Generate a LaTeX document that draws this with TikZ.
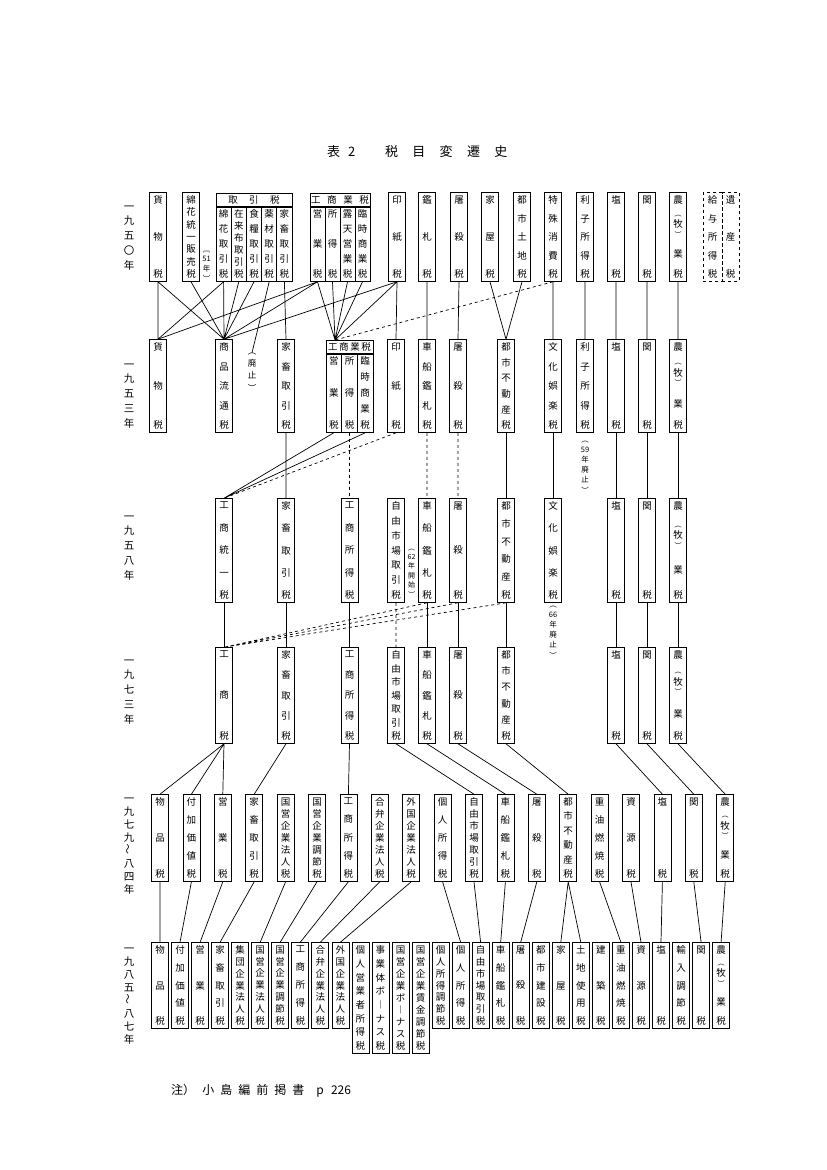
\documentclass[tikz,border=0pt]{standalone}
\usepackage{fontspec}
\setmainfont{Noto Sans CJK JP}
\usepackage{tikz}

\newcommand{\zeifont}{\fontsize{9.5}{10.5}\selectfont}
\newcommand{\chufont}{\fontsize{7.5}{8.5}\selectfont}
\newcommand{\nenfont}{\fontsize{10.5}{12}\selectfont}
% 縦書き（カンマ区切りの文字を上下に割り付ける）
\newcommand{\tate}[1]{\foreach \zc [count=\zi] in {#1}{\ifnum\zi>1 \par\vfill\fi\zc}}
\newcommand{\tb}[3][17]{\parbox[c][#2pt][s]{#1pt}{\centering\tate{#3}}}
\newcommand{\kakko}[1]{\shortstack{\scriptsize ︵\\#1\\\scriptsize ︶}}
\newcommand{\nami}{\rotatebox{90}{～}}

\begin{document}
\begin{tikzpicture}[x=1pt, y=-1pt,
  zei/.style={draw, line width=0.8pt, inner xsep=0pt, inner ysep=3pt, font=\zeifont},
  hazei/.style={zei, dashed},
  zeig/.style={draw, line width=0.8pt, inner sep=0pt, minimum height=14pt, font=\zeifont},
  chu/.style={inner sep=0pt, font=\chufont},
  nen/.style={inner sep=0pt, font=\nenfont},
  kei/.style={line width=0.7pt},
  hakei/.style={kei, dashed}
]
  \fill[white] (0,0) rectangle (827,1170);
  \useasboundingbox (0,0) rectangle (827,1170);

  \node[anchor=west, inner sep=0pt, font=\fontsize{13}{15}\selectfont] (hyodai) at (327,152)
    {表\hspace{0.6em}2\hspace{2.3em}税\hspace{1.1em}目\hspace{1.1em}変\hspace{1.1em}遷\hspace{1.1em}史};

  % 年
  \node[nen] (n1950) at (129,238) {\tb[14]{64}{一,九,五,〇,年}};
  \node[nen] (n1953) at (129,396) {\tb[14]{64}{一,九,五,三,年}};
  \node[nen] (n1958) at (129,548) {\tb[14]{64}{一,九,五,八,年}};
  \node[nen] (n1973) at (129,692) {\tb[14]{64}{一,九,七,三,年}};
  \node[nen] (n1979) at (129,846) {\tb[14]{96}{一,九,七,九,\nami,八,四,年}};
  \node[nen] (n1985) at (129,996) {\tb[14]{96}{一,九,八,五,\nami,八,七,年}};

  % 1950
  \node[zei] (r1kamotsu) at (158,237) {\tb{82}{貨,物,税}};
  \node[zei] (r1menka) at (191,237) {\tb{82}{綿,花,統,一,販,売,税}};
  \node[chu] (r1nen51) at (206.5,266) {\tb[9]{30}{︹,51,年,︺}};
  \node[zeig, minimum width=76pt] (r1torihiki) at (254,200) {取\hspace{1.2em}引\hspace{1.2em}税};
  \node[zei] (r1menkator) at (223.6,244) {\tb[15.2]{68}{綿,花,取,引,税}};
  \node[zei] (r1zairai) at (238.8,244) {\tb[15.2]{68}{在,来,布,取,引,税}};
  \node[zei] (r1shokuryo) at (254,244) {\tb[15.2]{68}{食,糧,取,引,税}};
  \node[zei] (r1yakuzai) at (269.2,244) {\tb[15.2]{68}{薬,材,取,引,税}};
  \node[zei] (r1kachiku) at (284.4,244) {\tb[15.2]{68}{家,畜,取,引,税}};
  \node[zeig, minimum width=60pt] (r1koshogyo) at (340,200) {工\hspace{0.7em}商\hspace{0.7em}業\hspace{0.7em}税};
  \node[zei] (r1eigyo) at (317.5,244) {\tb[15]{68}{営,業,税}};
  \node[zei] (r1shotoku) at (332.5,244) {\tb[15]{68}{所,得,税}};
  \node[zei] (r1roten) at (347.5,244) {\tb[15]{68}{露,天,営,業,税}};
  \node[zei] (r1rinji) at (362.5,244) {\tb[15]{68}{臨,時,商,業,税}};
  \node[zei] (r1inshi) at (397,237) {\tb{82}{印,紙,税}};
  \node[zei] (r1kansatsu) at (427,237) {\tb{82}{鑑,札,税}};
  \node[zei] (r1tosatsu) at (459,237) {\tb{82}{屠,殺,税}};
  \node[zei] (r1kaoku) at (490,237) {\tb{82}{家,屋,税}};
  \node[zei] (r1toshitochi) at (522,237) {\tb{82}{都,市,土,地,税}};
  \node[zei] (r1tokushu) at (553,237) {\tb{82}{特,殊,消,費,税}};
  \node[zei] (r1rishi) at (585,237) {\tb{82}{利,子,所,得,税}};
  \node[zei] (r1en) at (616,237) {\tb{82}{塩,税}};
  \node[zei] (r1kan) at (647,237) {\tb{82}{関,税}};
  \node[zei] (r1nogyo) at (678,237) {\tb{82}{農,\kakko{牧},業,税}};
  \node[hazei] (r1kyuyo) at (712.5,237) {\tb[19]{82}{給,与,所,得,税}};
  \node[hazei] (r1isan) at (730.5,237) {\tb[17]{82}{遺,産,税}};

  % 1953
  \node[zei] (r2kamotsu) at (158,386) {\tb{86}{貨,物,税}};
  \node[zei] (r2ryutsu) at (224,386) {\tb{86}{商,品,流,通,税}};
  \node[chu, font=\fontsize{8.5}{9.5}\selectfont] (r2haishi) at (252,372) {\tb[10]{38}{︵,廃,止,︶}};
  \node[zei] (r2kachiku) at (286,386) {\tb{86}{家,畜,取,引,税}};
  \node[zeig, minimum width=47pt] (r2koshogyo) at (349.5,347) {工\,商\,業\,税};
  \coordinate (r2kgtop) at (335,340);
  \node[zei] (r2eigyo) at (333.8,393) {\tb[15.6]{72}{営,業,税}};
  \node[zei] (r2shotoku) at (349.5,393) {\tb[15.6]{72}{所,得,税}};
  \node[zei] (r2rinji) at (365.2,393) {\tb[15.6]{72}{臨,時,商,業,税}};
  \node[zei] (r2inshi) at (396,386) {\tb{86}{印,紙,税}};
  \node[zei] (r2shasen) at (427,386) {\tb{86}{車,船,鑑,札,税}};
  \node[zei] (r2tosatsu) at (458,386) {\tb{86}{屠,殺,税}};
  \node[zei] (r2fudosan) at (506,386) {\tb{86}{都,市,不,動,産,税}};
  \node[zei] (r2bunka) at (553,386) {\tb{86}{文,化,娯,楽,税}};
  \node[zei] (r2rishi) at (585,386) {\tb{86}{利,子,所,得,税}};
  \node[chu] (r2haishi59) at (585,467) {\tb[12]{52}{︵,59,年,廃,止,︶}};
  \node[zei] (r2en) at (616,386) {\tb{86}{塩,税}};
  \node[zei] (r2kan) at (647,386) {\tb{86}{関,税}};
  \node[zei] (r2nogyo) at (678,386) {\tb{86}{農,\kakko{牧},業,税}};

  % 1958
  \node[zei] (r3toitsu) at (224,550.5) {\tb{97}{工,商,統,一,税}};
  \node[zei] (r3kachiku) at (286,550.5) {\tb{97}{家,畜,取,引,税}};
  \node[zei] (r3kosho) at (349.5,550.5) {\tb{97}{工,商,所,得,税}};
  \node[zei] (r3jiyu) at (396,550.5) {\tb{97}{自,由,市,場,取,引,税}};
  \node[chu, font=\fontsize{7}{8}\selectfont] (r3nen62) at (411.5,573) {\tb[9]{48}{︵,62,年,開,始,︶}};
  \node[zei] (r3shasen) at (427,550.5) {\tb{97}{車,船,鑑,札,税}};
  \node[zei] (r3tosatsu) at (458,550.5) {\tb{97}{屠,殺,税}};
  \node[zei] (r3fudosan) at (506,550.5) {\tb{97}{都,市,不,動,産,税}};
  \node[zei] (r3bunka) at (553,550.5) {\tb{97}{文,化,娯,楽,税}};
  \node[chu] (r3haishi66) at (553,632) {\tb[12]{52}{︵,66,年,廃,止,︶}};
  \node[zei] (r3en) at (616,550.5) {\tb{97}{塩,税}};
  \node[zei] (r3kan) at (647,550.5) {\tb{97}{関,税}};
  \node[zei] (r3nogyo) at (678,550.5) {\tb{97}{農,\kakko{牧},業,税}};

  % 1973
  \node[zei] (r4kosho) at (224,695.5) {\tb{89}{工,商,税}};
  \node[zei] (r4kachiku) at (286,695.5) {\tb{89}{家,畜,取,引,税}};
  \node[zei] (r4shotoku) at (349.5,695.5) {\tb{89}{工,商,所,得,税}};
  \node[zei] (r4jiyu) at (396,695.5) {\tb{89}{自,由,市,場,取,引,税}};
  \node[zei] (r4shasen) at (427,695.5) {\tb{89}{車,船,鑑,札,税}};
  \node[zei] (r4tosatsu) at (458,695.5) {\tb{89}{屠,殺,税}};
  \node[zei] (r4fudosan) at (506,695.5) {\tb{89}{都,市,不,動,産,税}};
  \node[zei] (r4en) at (616,695.5) {\tb{89}{塩,税}};
  \node[zei] (r4kan) at (647,695.5) {\tb{89}{関,税}};
  \node[zei] (r4nogyo) at (678,695.5) {\tb{89}{農,\kakko{牧},業,税}};

  % 1979-84
  \node[zei] (r5buppin) at (160,838) {\tb{80}{物,品,税}};
  \node[zei] (r5fuka) at (191.4,838) {\tb{80}{付,加,価,値,税}};
  \node[zei] (r5eigyo) at (222.8,838) {\tb{80}{営,業,税}};
  \node[zei] (r5kachiku) at (254.2,838) {\tb{80}{家,畜,取,引,税}};
  \node[zei] (r5kokuho) at (285.6,838) {\tb{80}{国,営,企,業,法,人,税}};
  \node[zei] (r5kokucho) at (317,838) {\tb{80}{国,営,企,業,調,節,税}};
  \node[zei] (r5kosho) at (348.4,838) {\tb{80}{工,商,所,得,税}};
  \node[zei] (r5gouben) at (379.8,838) {\tb{80}{合,弁,企,業,法,人,税}};
  \node[zei] (r5gaikoku) at (411.2,838) {\tb{80}{外,国,企,業,法,人,税}};
  \node[zei] (r5kojin) at (442.6,838) {\tb{80}{個,人,所,得,税}};
  \node[zei] (r5jiyu) at (474,838) {\tb{80}{自,由,市,場,取,引,税}};
  \node[zei] (r5shasen) at (505.4,838) {\tb{80}{車,船,鑑,札,税}};
  \node[zei] (r5tosatsu) at (536.8,838) {\tb{80}{屠,殺,税}};
  \node[zei] (r5fudosan) at (568.2,838) {\tb{80}{都,市,不,動,産,税}};
  \node[zei] (r5juyu) at (599.6,838) {\tb{80}{重,油,燃,焼,税}};
  \node[zei] (r5shigen) at (631,838) {\tb{80}{資,源,税}};
  \node[zei] (r5en) at (662.4,838) {\tb{80}{塩,税}};
  \node[zei] (r5kan) at (693.8,838) {\tb{80}{関,税}};
  \node[zei] (r5nogyo) at (725.2,838) {\tb{80}{農,\kakko{牧},業,税}};

  % 1985-87
  \node[zei] (r6buppin) at (160,985.5) {\tb{79}{物,品,税}};
  \node[zei] (r6fuka) at (180,985.5) {\tb{79}{付,加,価,値,税}};
  \node[zei] (r6eigyo) at (200.1,985.5) {\tb{79}{営,業,税}};
  \node[zei] (r6kachiku) at (220.1,985.5) {\tb{79}{家,畜,取,引,税}};
  \node[zei] (r6shudan) at (240.2,985.5) {\tb{79}{集,団,企,業,法,人,税}};
  \node[zei] (r6kokuho) at (260.2,985.5) {\tb{79}{国,営,企,業,法,人,税}};
  \node[zei] (r6kokucho) at (280.2,985.5) {\tb{79}{国,営,企,業,調,節,税}};
  \node[zei] (r6kosho) at (300.3,985.5) {\tb{79}{工,商,所,得,税}};
  \node[zei] (r6gouben) at (320.3,985.5) {\tb{79}{合,弁,企,業,法,人,税}};
  \node[zei] (r6gaikoku) at (340.4,985.5) {\tb{79}{外,国,企,業,法,人,税}};
  \node[zei] (r6kojineigyo) at (360.4,998) {\tb{104}{個,人,営,業,者,所,得,税}};
  \node[zei] (r6jigyotai) at (380.4,998) {\tb{104}{事,業,体,ボ,︱,ナ,ス,税}};
  \node[zei] (r6kokubonus) at (400.5,998) {\tb{104}{国,営,企,業,ボ,︱,ナ,ス,税}};
  \node[zei] (r6kokuchingin) at (420.5,998) {\tb{104}{国,営,企,業,賃,金,調,節,税}};
  \node[zei] (r6kojinchosetsu) at (440.6,985.5) {\tb{79}{個,人,所,得,調,節,税}};
  \node[zei] (r6kojin) at (460.6,985.5) {\tb{79}{個,人,所,得,税}};
  \node[zei] (r6jiyu) at (480.6,985.5) {\tb{79}{自,由,市,場,取,引,税}};
  \node[zei] (r6shasen) at (500.7,985.5) {\tb{79}{車,船,鑑,札,税}};
  \node[zei] (r6tosatsu) at (520.7,985.5) {\tb{79}{屠,殺,税}};
  \node[zei] (r6toshiken) at (540.8,985.5) {\tb{79}{都,市,建,設,税}};
  \node[zei] (r6kaoku) at (560.8,985.5) {\tb{79}{家,屋,税}};
  \node[zei] (r6tochi) at (580.8,985.5) {\tb{79}{土,地,使,用,税}};
  \node[zei] (r6kenchiku) at (600.9,985.5) {\tb{79}{建,築,税}};
  \node[zei] (r6juyu) at (620.9,985.5) {\tb{79}{重,油,燃,焼,税}};
  \node[zei] (r6shigen) at (641,985.5) {\tb{79}{資,源,税}};
  \node[zei] (r6en) at (661,985.5) {\tb{79}{塩,税}};
  \node[zei] (r6yunyu) at (681,985.5) {\tb{79}{輸,入,調,節,税}};
  \node[zei] (r6kan) at (701.1,985.5) {\tb{79}{関,税}};
  \node[zei] (r6nogyo) at (721.1,985.5) {\tb{79}{農,\kakko{牧},業,税}};

  % 1950 -> 1953
  \draw[kei] (r1kamotsu.south) -- (r2kamotsu.north) (r1kamotsu.south) -- (r2ryutsu.north)
    (r1menka.south) -- (r2ryutsu.north) (r1menkator.south) -- (r2kamotsu.north)
    (r1menkator.south) -- (r2ryutsu.north) (r1zairai.south) -- (r2ryutsu.north)
    (r1shokuryo.south) -- (r2ryutsu.north) (r1yakuzai.south) -- (r2haishi.north)
    (r1kachiku.south) -- (r2kachiku.north);
  \draw[kei] (r1eigyo.south) -- (r2kamotsu.north) (r1eigyo.south) -- (r2ryutsu.north)
    (r1eigyo.south) -- (r2kgtop) (r1shotoku.south) -- (r2kgtop)
    (r1roten.south) -- (r2kgtop) (r1rinji.south) -- (r2kgtop)
    (r1inshi.south) -- (r2kgtop) (r1inshi.south) -- (r2ryutsu.north)
    (r1inshi.south) -- (r2inshi.north);
  \draw[hakei] (r1tokushu.south) -- (r2kgtop);
  \draw[kei] (r1kansatsu.south) -- (r2shasen.north) (r1tosatsu.south) -- (r2tosatsu.north)
    (r1kaoku.south) -- (r2fudosan.north) (r1toshitochi.south) -- (r2fudosan.north)
    (r1tokushu.south) -- (r2bunka.north) (r1rishi.south) -- (r2rishi.north)
    (r1en.south) -- (r2en.north) (r1kan.south) -- (r2kan.north)
    (r1nogyo.south) -- (r2nogyo.north);

  % 1953 -> 1958
  \draw[kei] (r2eigyo.south) -- (r3toitsu.north) (r2rinji.south) -- (r3toitsu.north)
    (r2kachiku.south) -- (r3kachiku.north);
  \draw[hakei] (r2inshi.south) -- (r3toitsu.north) (r2shotoku.south) -- (r3kosho.north)
    (r2shasen.south) -- (r3shasen.north) (r2tosatsu.south) -- (r3tosatsu.north);
  \draw[kei] (r2fudosan.south) -- (r3fudosan.north) (r2bunka.south) -- (r3bunka.north)
    (r2en.south) -- (r3en.north) (r2kan.south) -- (r3kan.north)
    (r2nogyo.south) -- (r3nogyo.north);

  % 1958 -> 1973
  \draw[kei] (r3toitsu.south) -- (r4kosho.north) (r3kachiku.south) -- (r4kachiku.north)
    (r3kosho.south) -- (r4shotoku.north) (r3shasen.south) -- (r4shasen.north)
    (r3tosatsu.south) -- (r4tosatsu.north) (r3fudosan.south) -- (r4fudosan.north)
    (r3en.south) -- (r4en.north) (r3kan.south) -- (r4kan.north)
    (r3nogyo.south) -- (r4nogyo.north);
  \draw[hakei] (r3jiyu.south) -- (r4jiyu.north) (r3shasen.south) -- (r4kosho.north)
    (r3tosatsu.south) -- (r4kosho.north) (r3fudosan.south) -- (r4kosho.north);

  % 1973 -> 1979
  \draw[kei] (r4kosho.south) -- (r5buppin.north) (r4kosho.south) -- (r5fuka.north)
    (r4kosho.south) -- (r5eigyo.north) (r4kachiku.south) -- (r5kachiku.north)
    (r4shotoku.south) -- (r5kosho.north) (r4jiyu.south) -- (r5jiyu.north)
    (r4shasen.south) -- (r5shasen.north) (r4tosatsu.south) -- (r5tosatsu.north)
    (r4fudosan.south) -- (r5fudosan.north) (r4en.south) -- (r5en.north)
    (r4kan.south) -- (r5kan.north) (r4nogyo.south) -- (r5nogyo.north);

  % 1979 -> 1985
  \draw[kei] (r5buppin.south) -- (r6buppin.north) (r5fuka.south) -- (r6fuka.north)
    (r5eigyo.south) -- (r6eigyo.north) (r5kachiku.south) -- (r6kachiku.north)
    (r5kokuho.south) -- (r6kokuho.north) (r5kokucho.south) -- (r6kokucho.north)
    (r5kosho.south) -- (r6kosho.north) (r5gouben.south) -- (r6gouben.north)
    (r5gaikoku.south) -- (r6gaikoku.north) (r5kojin.south) -- (r6kojin.north)
    (r5jiyu.south) -- (r6jiyu.north) (r5shasen.south) -- (r6shasen.north)
    (r5tosatsu.south) -- (r6tosatsu.north) (r5fudosan.south) -- (r6kaoku.north)
    (r5fudosan.south) -- (r6tochi.north) (r5juyu.south) -- (r6juyu.north)
    (r5shigen.south) -- (r6shigen.north) (r5en.south) -- (r6en.north)
    (r5kan.south) -- (r6kan.north) (r5nogyo.south) -- (r6nogyo.north);

  \node[anchor=west, inner sep=0pt, font=\fontsize{12}{14}\selectfont] (chuki) at (171,1091)
    {注）\hspace{0.6em}小\hspace{0.5em}島\hspace{0.5em}編\hspace{0.5em}前\hspace{0.5em}掲\hspace{0.5em}書\hspace{1em}p\hspace{0.6em}226};
\end{tikzpicture}
\end{document}
